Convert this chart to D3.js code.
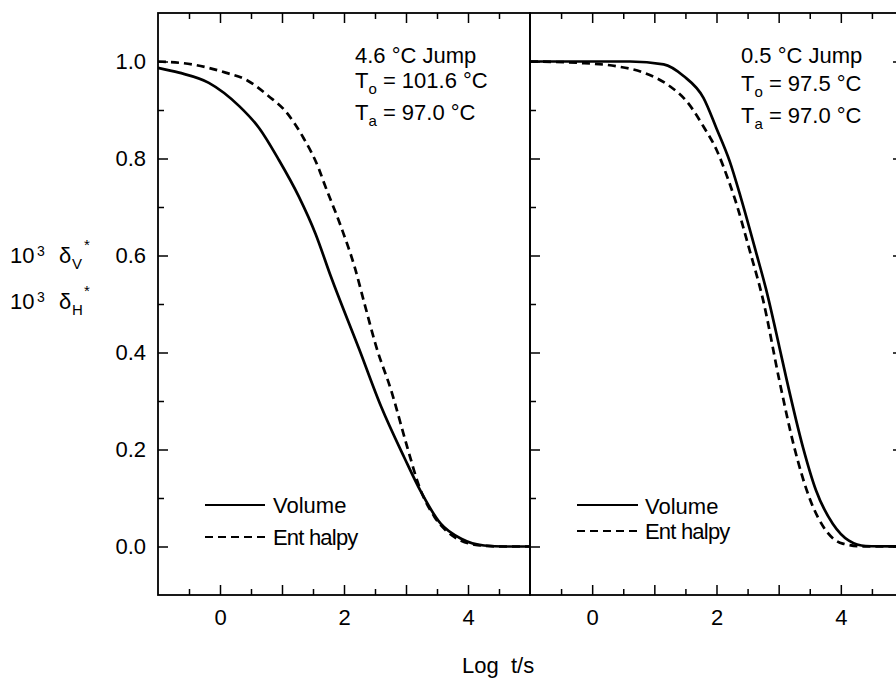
<!DOCTYPE html>
<html>
<head>
<meta charset="utf-8">
<script src="https://cdn.jsdelivr.net/npm/d3@7/dist/d3.min.js"></script>
<style>
  html, body { margin: 0; padding: 0; background: #fff; }
  svg { display: block; }
  text { font-family: "Liberation Sans", Arial, Helvetica, sans-serif; fill: #000; }
</style>
</head>
<body>
<script>
// ---------- DATA ----------
const leftVolumeX   = [-1, -0.66, -0.18, 0.31, 0.63, 0.95, 1.27, 1.54, 1.79, 2.25, 2.6, 2.97, 3.24, 3.56, 3.89, 4.26, 4.6, 5];
const leftVolumeY   = [0.987, 0.977, 0.956, 0.908, 0.863, 0.797, 0.722, 0.645, 0.556, 0.405, 0.288, 0.184, 0.113, 0.047, 0.016, 0.002, 0, 0];
const leftEnthalpyX = [-1, -0.45, 0.09, 0.41, 0.79, 1.06, 1.33, 1.6, 1.68, 1.95, 2.17, 2.33, 2.52, 2.76, 3.02, 3.21, 3.46, 3.67, 3.89, 4.1, 4.5, 5];
const leftEnthalpyY = [1.0, 0.994, 0.977, 0.963, 0.928, 0.897, 0.846, 0.777, 0.749, 0.660, 0.577, 0.501, 0.412, 0.322, 0.205, 0.125, 0.061, 0.030, 0.012, 0.004, 0, 0];

const rightVolumeX   = [-1, 0, 0.61, 1.15, 1.47, 1.79, 2.0, 2.21, 2.39, 2.64, 2.8, 3.01, 3.13, 3.39, 3.6, 3.87, 4.13, 4.4, 5];
const rightVolumeY   = [1.0, 1.0, 1.0, 0.994, 0.970, 0.925, 0.862, 0.795, 0.72, 0.605, 0.529, 0.412, 0.343, 0.205, 0.116, 0.047, 0.012, 0.001, 0];
const rightEnthalpyX = [-1, -0.19, 0.4, 0.83, 1.25, 1.52, 1.79, 2.0, 2.19, 2.3, 2.53, 2.75, 3.01, 3.25, 3.49, 3.76, 4.03, 4.4, 5];
const rightEnthalpyY = [1.0, 0.997, 0.990, 0.977, 0.949, 0.918, 0.866, 0.818, 0.756, 0.715, 0.612, 0.508, 0.343, 0.205, 0.102, 0.033, 0.006, 0, 0];

const xDomain = [-1, 5];
const yDomain = [-0.1, 1.1];
const xMajorTicks = [0, 1, 2, 3, 4];
const xMinorTicks = [-0.5, 0.5, 1.5, 2.5, 3.5, 4.5];
const xTickLabels = [0, 2, 4];
const yMajorTicks = [0, 0.2, 0.4, 0.6, 0.8, 1.0];
const yMinorTicks = [0.1, 0.3, 0.5, 0.7, 0.9];

const seriesNames = ["Volume", "Ent halpy"];
const leftNotes  = ["4.6 °C Jump", "101.6 °C", "97.0 °C"];
const rightNotes = ["0.5 °C Jump", "97.5 °C", "97.0 °C"];
const xAxisTitle = "Log  t/s";

// ---------- LAYOUT ----------
const W = 896, H = 678;
const plotTop = 13, plotBottom = 595;
const FS = 22;

const svg = d3.select("body").append("svg").attr("width", W).attr("height", H);

const y = d3.scaleLinear().domain(yDomain).range([plotBottom, plotTop]);
const xL = d3.scaleLinear().domain(xDomain).range([158, 530]);
const xR = d3.scaleLinear().domain(xDomain).range([530, 903]);

function zip(xs, ys) { return xs.map((v, i) => [v, ys[i]]); }

function styleAxis(g) {
  g.select(".domain").remove();
  g.selectAll("line").attr("stroke", "#000").attr("stroke-width", 1.5);
  g.selectAll("text").attr("font-size", FS).attr("font-family", "Liberation Sans, Arial, sans-serif");
}

function panel(x, opts) {
  const g = svg.append("g");
  // bottom
  g.append("g").attr("transform", `translate(0,${plotBottom})`)
    .call(d3.axisBottom(x).tickValues(xMajorTicks).tickSize(-10).tickPadding(14)
      .tickFormat(d => xTickLabels.includes(d) ? d3.format("d")(d) : ""))
    .call(styleAxis);
  g.append("g").attr("transform", `translate(0,${plotBottom})`)
    .call(d3.axisBottom(x).tickValues(xMinorTicks).tickSize(-6).tickFormat(""))
    .call(styleAxis);
  // top
  g.append("g").attr("transform", `translate(0,${plotTop})`)
    .call(d3.axisTop(x).tickValues(xMajorTicks).tickSize(-10).tickFormat(""))
    .call(styleAxis);
  g.append("g").attr("transform", `translate(0,${plotTop})`)
    .call(d3.axisTop(x).tickValues(xMinorTicks).tickSize(-6).tickFormat(""))
    .call(styleAxis);
  // left
  const x0 = x.range()[0], x1 = x.range()[1];
  g.append("g").attr("transform", `translate(${x0},0)`)
    .call(d3.axisLeft(y).tickValues(yMajorTicks).tickSize(-10).tickPadding(12)
      .tickFormat(opts.yLabels ? d3.format(".1f") : ""))
    .call(styleAxis);
  g.append("g").attr("transform", `translate(${x0},0)`)
    .call(d3.axisLeft(y).tickValues(yMinorTicks).tickSize(-6).tickFormat(""))
    .call(styleAxis);
  if (opts.rightTicks) {
    g.append("g").attr("transform", `translate(${x1},0)`)
      .call(d3.axisRight(y).tickValues(yMajorTicks).tickSize(-10).tickFormat(""))
      .call(styleAxis);
    g.append("g").attr("transform", `translate(${x1},0)`)
      .call(d3.axisRight(y).tickValues(yMinorTicks).tickSize(-6).tickFormat(""))
      .call(styleAxis);
  }
  // frame
  g.append("rect").attr("x", x0).attr("y", plotTop).attr("width", x1 - x0).attr("height", plotBottom - plotTop)
    .attr("fill", "none").attr("stroke", "#000").attr("stroke-width", 1.8);

  const line = d3.line().x(d => x(d[0])).y(d => y(d[1])).curve(d3.curveMonotoneX);
  g.append("path").datum(zip(opts.vx, opts.vy)).attr("d", line)
    .attr("fill", "none").attr("stroke", "#000").attr("stroke-width", 2.7);
  g.append("path").datum(zip(opts.ex, opts.ey)).attr("d", line)
    .attr("fill", "none").attr("stroke", "#000").attr("stroke-width", 2.7)
    .attr("stroke-dasharray", "8,5");

  // legend
  const lg = opts.legend;
  g.append("line").attr("x1", lg.x1).attr("x2", lg.x2).attr("y1", lg.y1).attr("y2", lg.y1)
    .attr("stroke", "#000").attr("stroke-width", 2.2);
  g.append("line").attr("x1", lg.x1).attr("x2", lg.x2).attr("y1", lg.y2).attr("y2", lg.y2)
    .attr("stroke", "#000").attr("stroke-width", 2.2).attr("stroke-dasharray", "8,5");
  g.append("text").attr("x", lg.tx).attr("y", lg.b1).attr("font-size", FS)
    .text(seriesNames[0]);
  g.append("text").attr("x", lg.tx).attr("y", lg.b2).attr("font-size", FS)
    .attr("letter-spacing", -0.8).style("white-space", "pre").text(seriesNames[1]);

  // notes
  const n = opts.notes, nb = opts.noteBase, nx = opts.noteX;
  g.append("text").attr("x", nx).attr("y", nb[0]).attr("font-size", FS).text(n[0]);
  const t2 = g.append("text").attr("x", nx).attr("y", nb[1]).attr("font-size", FS);
  t2.append("tspan").text("T");
  t2.append("tspan").attr("font-size", 15).attr("dy", 6).text("o");
  t2.append("tspan").attr("dy", -6).text(" = " + n[1]);
  const t3 = g.append("text").attr("x", nx).attr("y", nb[2]).attr("font-size", FS);
  t3.append("tspan").text("T");
  t3.append("tspan").attr("font-size", 15).attr("dy", 6).text("a");
  t3.append("tspan").attr("dy", -6).text(" = " + n[2]);
}

panel(xL, {
  yLabels: true, rightTicks: false,
  vx: leftVolumeX, vy: leftVolumeY, ex: leftEnthalpyX, ey: leftEnthalpyY,
  legend: { x1: 205, x2: 265, y1: 505, y2: 537, tx: 273, b1: 513, b2: 545 },
  notes: leftNotes, noteX: 355, noteBase: [63, 88, 120]
});
panel(xR, {
  yLabels: false, rightTicks: true,
  vx: rightVolumeX, vy: rightVolumeY, ex: rightEnthalpyX, ey: rightEnthalpyY,
  legend: { x1: 577, x2: 638, y1: 505, y2: 531, tx: 645, b1: 514, b2: 539 },
  notes: rightNotes, noteX: 741, noteBase: [63, 91, 123]
});

// y-axis title (two lines)
function yTitle(base, sub) {
  const t = svg.append("text").attr("font-size", FS);
  t.append("tspan").attr("x", 10).attr("y", base).text("10");
  t.append("tspan").attr("x", 37).attr("y", base - 7).attr("font-size", 14).text("3");
  t.append("tspan").attr("x", 59).attr("y", base).text("δ");
  t.append("tspan").attr("x", 72).attr("y", base + 6).attr("font-size", 15).text(sub);
  t.append("tspan").attr("x", 84).attr("y", base - 13).attr("font-size", 15).text("*");
}
yTitle(263, "V");
yTitle(309, "H");

// x-axis title
svg.append("text").attr("x", 462).attr("y", 673).attr("font-size", FS)
  .style("white-space", "pre").text(xAxisTitle);
</script>
</body>
</html>
